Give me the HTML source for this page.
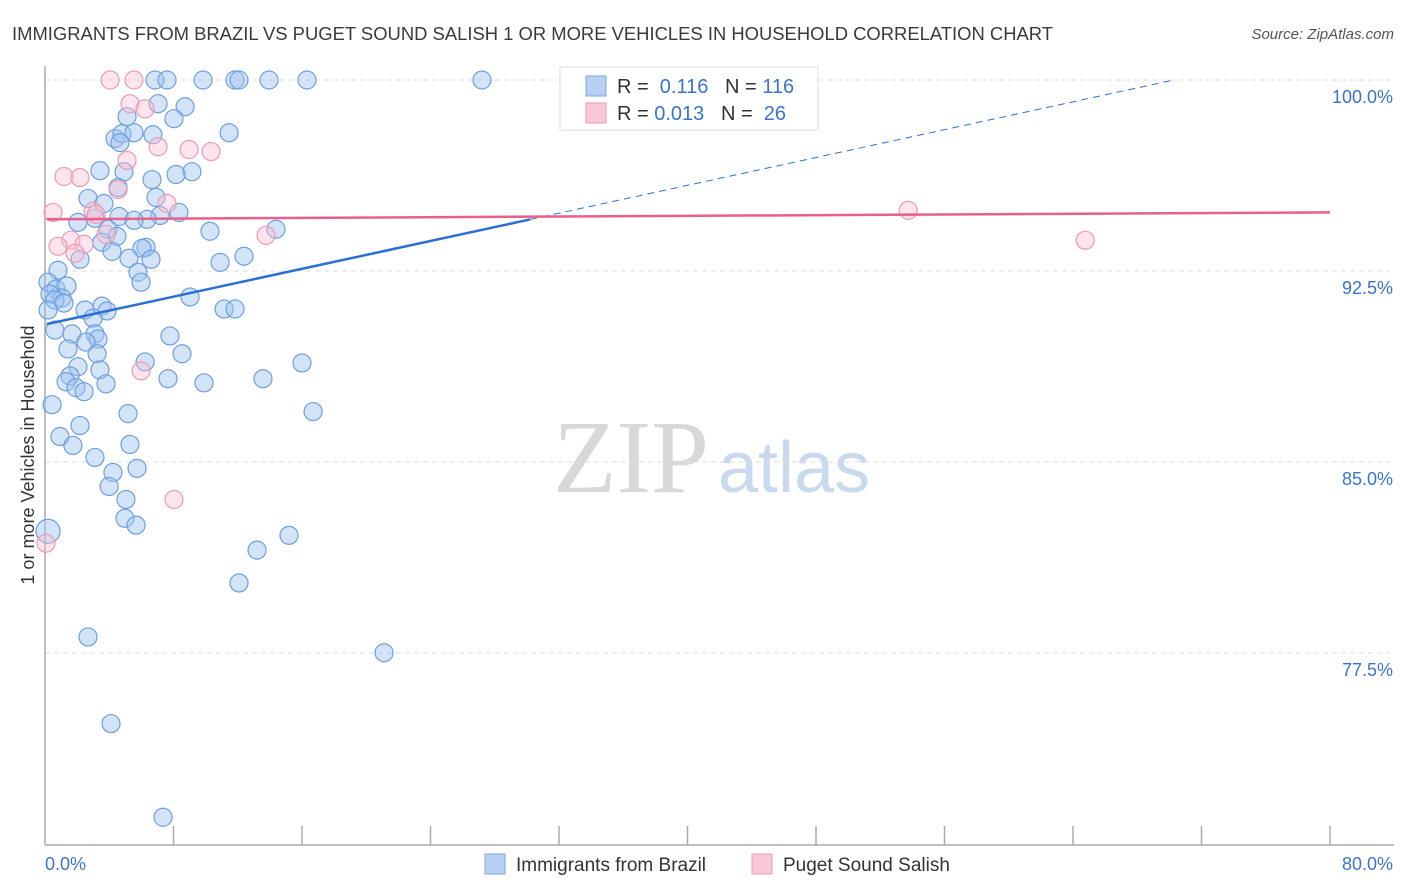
<!DOCTYPE html>
<html><head><meta charset="utf-8">
<style>
body{margin:0;background:#fff;font-family:"Liberation Sans",sans-serif;}
#wrap{position:relative;width:1406px;height:892px;overflow:hidden;}
</style></head>
<body>
<div id="wrap">
<svg id="chart" width="1406" height="892">
<text x="12" y="40" font-size="18" fill="#3a3a3a" textLength="1041" lengthAdjust="spacingAndGlyphs">IMMIGRANTS FROM BRAZIL VS PUGET SOUND SALISH 1 OR MORE VEHICLES IN HOUSEHOLD CORRELATION CHART</text>
<text x="1394" y="39" font-size="15" fill="#555" text-anchor="end" font-style="italic">Source: ZipAtlas.com</text>
<text x="34" y="455" font-size="18" fill="#333" text-anchor="middle" transform="rotate(-90 34 455)">1 or more Vehicles in Household</text>
<text x="553" y="492" font-size="104" fill="#d8d8d8" font-family="Liberation Serif,serif">ZIP</text>
<text x="718" y="492" font-size="72" fill="#c9d9ef">atlas</text>
<g id="grid"></g><g id="axes"></g><g id="pts"></g><g id="trend"></g>
<g>
<rect x="560" y="67" width="258" height="63" fill="#fff" stroke="#ddd"/>
<rect x="586" y="76" width="20" height="20" fill="#b7d0f2" stroke="#7aa7e6"/>
<rect x="586" y="103" width="20" height="20" fill="#f9c8d6" stroke="#ee9ab3"/>
<text x="617" y="93" font-size="20" fill="#333">R = <tspan fill="#3a73d0">&#160;0.116</tspan>&#160;&#160;&#160;N = <tspan fill="#3a73d0">116</tspan></text>
<text x="617" y="120" font-size="20" fill="#333">R = <tspan fill="#3a73d0">0.013</tspan>&#160;&#160;&#160;N = <tspan fill="#3a73d0">&#160;26</tspan></text>
</g>
<g>
<rect x="485" y="854" width="20" height="20" fill="#b7d0f2" stroke="#7aa7e6"/>
<text x="516" y="871" font-size="19" fill="#333">Immigrants from Brazil</text>
<rect x="752" y="854" width="20" height="20" fill="#f9c8d6" stroke="#ee9ab3"/>
<text x="783" y="871" font-size="19" fill="#333">Puget Sound Salish</text>
</g>
</svg>
</div>
<script>
const yTicks=[100,92.5,85,77.5];
const yTickLabels=["100.0%","92.5%","85.0%","77.5%"];
const xTicks=[0,8,16,24,32,40,48,56,64,72,80];
const blueX=[6.85,7.6,9.84,11.83,12.08,13.95,16.31,27.21,7.04,8.72,5.11,8.03,4.36,4.79,5.54,4.67,6.72,11.46,3.42,4.92,9.15,8.16,6.66,4.55,2.68,6.91,3.67,8.34,7.16,3.11,4.61,2.05,6.35,5.54,10.27,14.38,3.92,4.48,3.55,6.29,6.04,4.17,12.39,5.23,6.6,2.18,10.9,0.81,5.79,0.19,5.98,0.68,1.37,0.31,1.06,0.62,1.18,9.03,3.55,2.49,3.86,11.15,11.83,0.19,2.99,0.62,1.68,3.11,3.3,7.78,2.55,1.43,3.24,8.53,6.23,2.05,16.0,3.42,1.56,7.66,9.9,1.31,3.8,1.93,2.43,13.57,0.44,5.17,16.69,2.18,0.93,1.74,5.29,3.11,4.23,5.73,3.99,5.04,4.98,5.67,15.19,13.2,12.08,2.68,21.11,4.11,7.35,0.19];
const blueY=[100,100,100,100,100,100,100,100,99.07,98.95,98.56,98.48,97.7,97.89,97.93,97.54,97.85,97.93,96.44,96.4,96.4,96.29,96.09,95.78,95.35,95.39,95.15,94.8,94.68,94.57,94.64,94.41,94.53,94.49,94.06,94.14,94.14,93.86,93.63,93.43,93.39,93.27,93.08,93.0,92.96,92.96,92.84,92.53,92.45,92.06,92.06,91.79,91.91,91.59,91.44,91.36,91.24,91.48,91.12,90.97,90.93,91.01,91.01,90.97,90.65,90.18,90.03,90.03,89.83,89.95,89.71,89.44,89.25,89.25,88.93,88.74,88.89,88.62,88.38,88.27,88.11,88.15,88.07,87.92,87.76,88.27,87.25,86.9,86.98,86.43,86.0,85.65,85.69,85.18,84.59,84.75,84.04,83.53,82.79,82.52,82.12,81.54,80.25,78.13,77.51,74.73,71.05,82.28];
const pinkX=[4.05,5.54,5.29,6.23,7.04,8.97,10.34,5.11,1.18,2.18,4.55,7.6,0.5,2.99,3.18,53.74,1.62,0.81,3.8,2.43,13.76,64.76,1.87,5.98,8.03,0.06];
const pinkY=[100,100,99.07,98.87,97.38,97.27,97.19,96.84,96.21,96.17,95.7,95.15,94.8,94.84,94.72,94.88,93.71,93.47,93.94,93.55,93.9,93.71,93.2,88.58,83.53,81.81];
const blueTrend=[90.4,0.1366];
const pinkTrend=[94.53,0.0034];
const NS="http://www.w3.org/2000/svg";
const X0=45,X1=1330,Y100=80,Y70=844;
const sx=v=>X0+(v/80)*(X1-X0);
const sy=v=>Y100+(100-v)/30*(Y70-Y100);
function mk(tag,attrs,parent){const e=document.createElementNS(NS,tag);for(const k in attrs)e.setAttribute(k,attrs[k]);parent.appendChild(e);return e;}
const grid=document.getElementById('grid'),axes=document.getElementById('axes'),pts=document.getElementById('pts'),trend=document.getElementById('trend');
yTicks.forEach((t,i)=>{
 const l=mk('line',{x1:X0,x2:X1+60,y1:sy(t),y2:sy(t),stroke:'#ddd','stroke-dasharray':'5,4'},grid);
 
 
 const tx=mk('text',{x:1393,y:sy(t)+23,'font-size':18,fill:'#3a73d0','text-anchor':'end'},grid);
 tx.textContent=yTickLabels[i];
 
 
});
const ya=mk('line',{x1:X0,x2:X0,y1:66,y2:845,stroke:'#aaa','stroke-width':1.5},axes);


const xa=mk('line',{x1:X0,x2:1394,y1:845,y2:845,stroke:'#aaa','stroke-width':1.5},axes);


xTicks.forEach(t=>{
 if(t===0)return;
 const l=mk('line',{x1:sx(t),x2:sx(t),y1:826,y2:845,stroke:'#aaa','stroke-width':1.5},axes);
 
 
});
const xl0=mk('text',{x:45,y:870,'font-size':18,fill:'#3a73d0'},axes);xl0.textContent='0.0%';


const xl1=mk('text',{x:1393,y:870,'font-size':18,fill:'#3a73d0','text-anchor':'end'},axes);xl1.textContent='80.0%';


blueX.forEach((x,i)=>{
 const c=mk('circle',{cx:sx(x),cy:sy(blueY[i]),r:i===blueX.length-1?12:9,fill:'rgba(160,196,240,0.45)',stroke:'#6c9fe0','stroke-width':1.2},pts);
 
 
});
pinkX.forEach((x,i)=>{
 const c=mk('circle',{cx:sx(x),cy:sy(pinkY[i]),r:9,fill:'rgba(248,190,210,0.4)',stroke:'#ee9ab3','stroke-width':1.2},pts);
 
 
});
const bf=x=>blueTrend[0]+blueTrend[1]*x, pf=x=>pinkTrend[0]+pinkTrend[1]*x;
const xEnd=(100-blueTrend[0])/blueTrend[1];
const b1=mk('line',{x1:sx(0.1),y1:sy(bf(0.1)),x2:sx(30.2),y2:sy(bf(30.2)),stroke:'#2a6fd6','stroke-width':2.5},trend);


const b2=mk('line',{x1:sx(30.2),y1:sy(bf(30.2)),x2:sx(xEnd),y2:sy(100),stroke:'#2a6fd6','stroke-width':1,'stroke-dasharray':'7,5'},trend);


const p1=mk('line',{x1:sx(0.1),y1:sy(pf(0.1)),x2:sx(80),y2:sy(pf(80)),stroke:'#e8608a','stroke-width':2.5},trend);


</script>
</body></html>
